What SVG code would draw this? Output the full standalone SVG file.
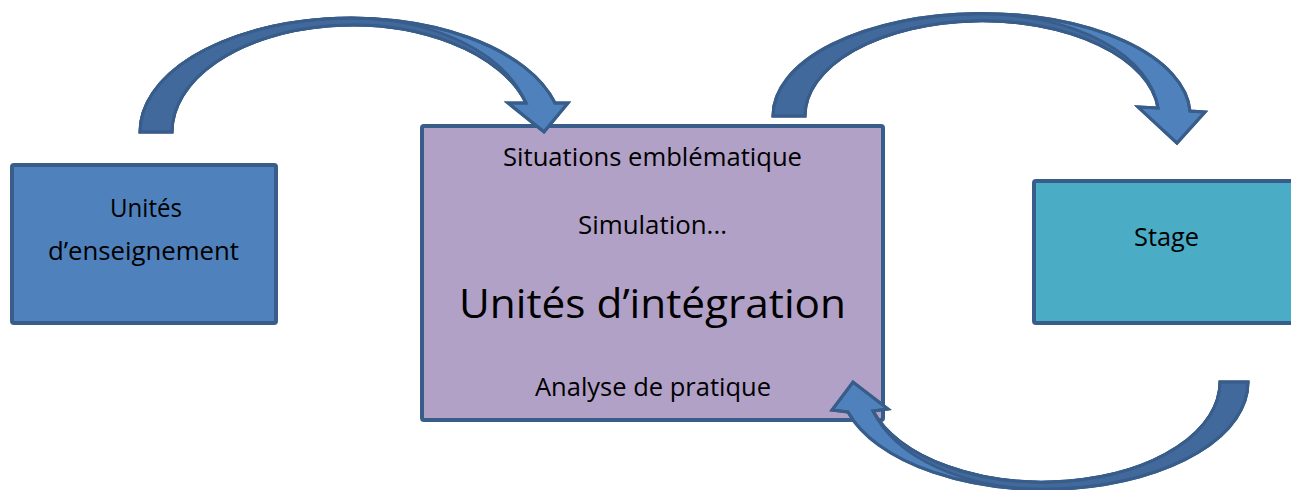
<svg xmlns="http://www.w3.org/2000/svg" width="1291" height="490" viewBox="0 0 1291 490">
<style>
.box{stroke:#385D8A;stroke-width:4}
.arrow{fill:#4F81BD;stroke:#385D8A;stroke-width:3;stroke-linejoin:miter}
.back{fill:#41699C;stroke:#385D8A;stroke-width:2.5}
.outline{fill:none;stroke:#385D8A;stroke-width:3}
text{font-family:"Open Sans","Noto Sans","Liberation Sans",sans-serif;fill:#000;text-anchor:middle}
.t{font-size:26px}
.big{font-size:41px}
</style>
<rect width="1291" height="490" fill="#fff"/>
<g id="node-enseignement">
<rect class="box" x="12" y="165" width="264" height="158" fill="#4F81BD" rx="2"/>
<text class="t" x="146" y="217" textLength="72" lengthAdjust="spacingAndGlyphs">Unités</text>
<text class="t" x="143.5" y="260" textLength="191" lengthAdjust="spacingAndGlyphs">d’enseignement</text>
</g>
<g id="node-integration">
<rect class="box" x="422" y="126" width="461" height="294" fill="#B2A1C7" rx="2"/>
<text class="t" x="652.5" y="166" textLength="299" lengthAdjust="spacingAndGlyphs">Situations emblématique</text>
<text class="t" x="652.5" y="234" textLength="149" lengthAdjust="spacingAndGlyphs">Simulation...</text>
<text class="big" x="652.5" y="318" textLength="387" lengthAdjust="spacingAndGlyphs">Unités d’intégration</text>
<text class="t" x="653" y="396" textLength="236" lengthAdjust="spacingAndGlyphs">Analyse de pratique</text>
</g>
<g id="node-stage">
<rect class="box" x="1034" y="181" width="300" height="142" fill="#4BACC6" rx="2"/>
<text class="t" x="1166.5" y="246" textLength="65" lengthAdjust="spacingAndGlyphs">Stage</text>
</g>
<g id="connectors">
<g id="arrow-1">
<path class="arrow" d="M140,132 A211,114 0 0 1 555,103 L568,103 L544,132 L508,103 L526,103 A180.4,107 0 0 0 172,132 Z"/>
<path class="back" d="M140,132 A211,114 0 0 1 351,18 A181,114 0 0 1 526,103 A180.4,107 0 0 0 172,132 Z"/>
<path class="outline" d="M140,132 A211,114 0 0 1 555,103 L568,103 L544,132 L508,103 L526,103 A180.4,107 0 0 0 172,132 Z"/>
</g>
<g id="arrow-2">
<path class="arrow" d="M773,116 A208.6,102 0 0 1 1190,111 L1205,112 L1177,143 L1138,107 L1158,108 A176.8,95 0 0 0 805,116 Z"/>
<path class="back" d="M773,116 A208.6,102 0 0 1 982,14 A176.5,102 0 0 1 1158,108 A176.8,95 0 0 0 805,116 Z"/>
<path class="outline" d="M773,116 A208.6,102 0 0 1 1190,111 L1205,112 L1177,143 L1138,107 L1158,108 A176.8,95 0 0 0 805,116 Z"/>
</g>
<g id="arrow-3">
<path class="arrow" d="M1248,382 A204,107 0 0 1 848,412 L832,410 L853,382 L888,409 L873,411 A177.3,100 0 0 0 1220,382 Z"/>
<path class="back" d="M1248,382 A204,107 0 0 1 1044,489 A177.6,107 0 0 1 873,411 A177.3,100 0 0 0 1220,382 Z"/>
<path class="outline" d="M1248,382 A204,107 0 0 1 848,412 L832,410 L853,382 L888,409 L873,411 A177.3,100 0 0 0 1220,382 Z"/>
</g>
</g>
</svg>
